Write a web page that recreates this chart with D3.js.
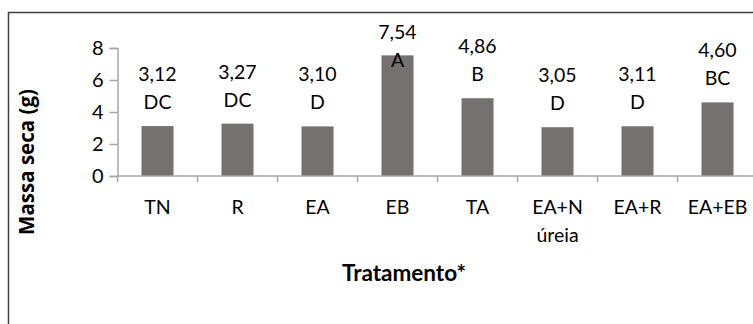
<!DOCTYPE html>
<html>
<head>
<meta charset="utf-8">
<script src="https://cdn.jsdelivr.net/npm/d3@7"></script>
<style>
  html, body { margin: 0; padding: 0; background: #fff; }
  svg { display: block; }
  text { font-family: Lato, "Open Sans", sans-serif; fill: #000; }
</style>
</head>
<body>
<svg id="chart" width="753" height="324"></svg>
<script>
// Dry mass per treatment, with the letters of the mean comparison test
const categories = ["TN", "R", "EA", "EB", "TA", "EA+N úreia", "EA+R", "EA+EB"];
const values = [3.12, 3.27, 3.10, 7.54, 4.86, 3.05, 3.11, 4.60];
const letters = ["DC", "DC", "D", "A", "B", "D", "D", "BC"];
const yTicks = [0, 2, 4, 6, 8];

const svg = d3.select("#chart");

const plot = { left: 117.5, right: 757.5, top: 48, bottom: 176 };
const labelFont = 19.5;

// Chart frame
svg.append("rect")
  .attr("x", 8.5).attr("y", 12.5)
  .attr("width", 900).attr("height", 600)
  .attr("fill", "none")
  .attr("stroke", "#3f3f3f")
  .attr("stroke-width", 1.5);

const x = d3.scaleBand()
  .domain(categories)
  .range([plot.left, plot.right])
  .paddingInner(0.6)
  .paddingOuter(0.3);

const y = d3.scaleLinear()
  .domain([0, 8])
  .range([plot.bottom, plot.top]);

const axisColor = "#a6a6a6";

// Y axis
const yAxis = svg.append("g")
  .attr("transform", `translate(${plot.left},0)`)
  .call(d3.axisLeft(y).tickValues(yTicks).tickSize(8).tickPadding(6).tickFormat(d3.format("d")));
yAxis.select(".domain").attr("stroke", axisColor).attr("stroke-width", 1.5);
yAxis.selectAll(".tick line").attr("stroke", axisColor).attr("stroke-width", 1.5);
yAxis.selectAll(".tick text")
  .style("font-family", "Lato, sans-serif")
  .attr("font-size", 20)
  .attr("fill", "#000");

// Bars
const decimal = d3.formatLocale({ decimal: ",", thousands: ".", grouping: [3], currency: ["R$", ""] }).format(".2f");

svg.append("g").selectAll("rect")
  .data(categories)
  .join("rect")
  .attr("x", d => x(d))
  .attr("width", x.bandwidth())
  .attr("y", (d, i) => y(values[i]))
  .attr("height", (d, i) => y(0) - y(values[i]))
  .attr("fill", "#767171");

// X axis with ticks on category boundaries
const xAxisG = svg.append("g").attr("transform", `translate(0,${plot.bottom})`);
xAxisG.append("line")
  .attr("x1", plot.left).attr("x2", plot.right)
  .attr("stroke", axisColor).attr("stroke-width", 1.5);
const step = x.step();
const boundaries = d3.range(categories.length + 1).map(i => plot.left + i * step);
xAxisG.selectAll("line.tick")
  .data(boundaries)
  .join("line")
  .attr("class", "tick")
  .attr("x1", d => d).attr("x2", d => d)
  .attr("y1", 0).attr("y2", 6)
  .attr("stroke", axisColor).attr("stroke-width", 1.5);

// Category labels (wrapped at spaces)
svg.append("g").selectAll("text")
  .data(categories)
  .join("text")
  .attr("text-anchor", "middle")
  .attr("font-size", labelFont)
  .each(function (d) {
    const t = d3.select(this);
    d.split(" ").forEach((line, k) => {
      t.append("tspan")
        .attr("x", x(d) + x.bandwidth() / 2)
        .attr("y", 214 + k * 28)
        .text(line);
    });
  });

// Value and letter labels above each bar
const minBaseline = 39;
const labels = svg.append("g");
categories.forEach((c, i) => {
  const cx = x(c) + x.bandwidth() / 2;
  let vBase = y(values[i]) - 45;
  if (vBase < minBaseline) vBase = minBaseline;
  labels.append("text")
    .attr("x", cx).attr("y", vBase)
    .attr("text-anchor", "middle")
    .attr("font-size", labelFont)
    .text(decimal(values[i]));
  labels.append("text")
    .attr("x", cx).attr("y", vBase + 28)
    .attr("text-anchor", "middle")
    .attr("font-size", labelFont)
    .text(letters[i]);
});

// Axis titles
svg.append("text")
  .attr("x", 404).attr("y", 281)
  .attr("text-anchor", "middle")
  .attr("font-size", 22.5)
  .attr("font-weight", "bold")
  .text("Tratamento*");

svg.append("text")
  .attr("transform", "translate(34,162) rotate(-90)")
  .attr("text-anchor", "middle")
  .attr("font-size", 20.5)
  .attr("font-weight", "bold")
  .style("font-family", "'Open Sans', sans-serif")
  .text("Massa seca (g)");
</script>
</body>
</html>
